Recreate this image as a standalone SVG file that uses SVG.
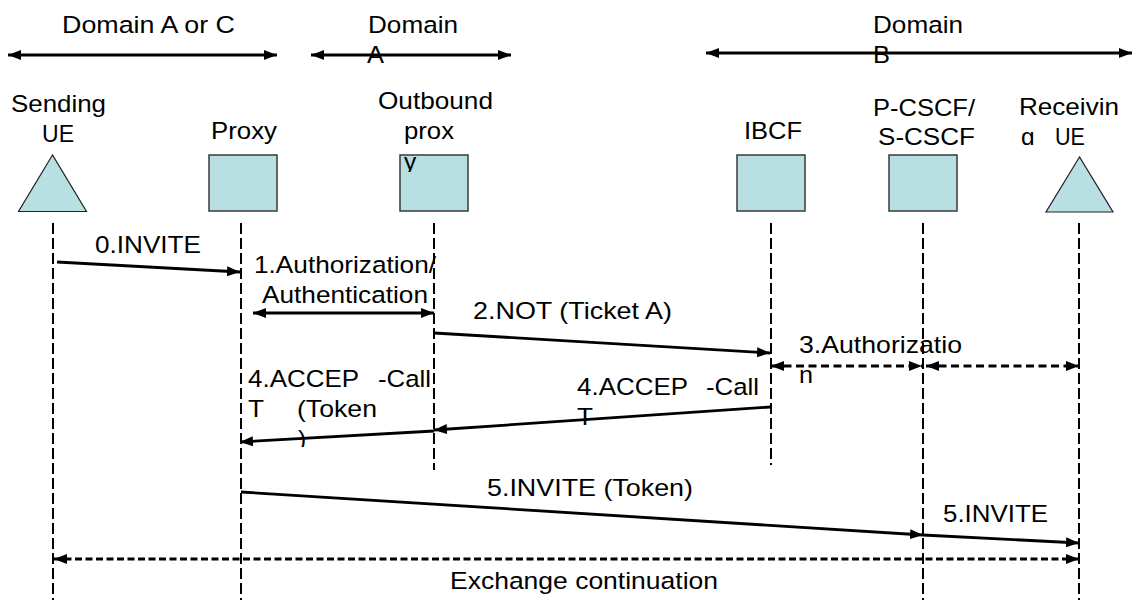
<svg xmlns="http://www.w3.org/2000/svg" width="1133" height="600" viewBox="0 0 1133 600">
<style>
.t{font-family:"Liberation Sans",Arial,sans-serif;font-size:24.5px;fill:#000}
.box{fill:#B8DFE2;stroke:#3a3a3a;stroke-width:1.5}
.ue{fill:#B8DFE2;stroke:#222;stroke-width:1.2}
.life{fill:none;stroke:#000;stroke-width:2;stroke-dasharray:11 4}
.msg{fill:none;stroke:#000;stroke-width:2.8}
.dmsg{fill:none;stroke:#000;stroke-width:2.8;stroke-dasharray:8 4.5}
.xmsg{fill:none;stroke:#000;stroke-width:2.8;stroke-dasharray:7 3.5}
.dom{fill:none;stroke:#000;stroke-width:3}
</style>
<defs>
<marker id="ah" markerUnits="userSpaceOnUse" markerWidth="14" markerHeight="12" viewBox="0 0 14 12" refX="13" refY="6" orient="auto-start-reverse">
<path d="M0,1 L13,6 L0,11 z" fill="#000"/>
</marker>
<clipPath id="cy"><rect x="395" y="140" width="40" height="32"/></clipPath>
<clipPath id="cg"><rect x="1015" y="120" width="25" height="25"/></clipPath>
<clipPath id="cp"><rect x="290" y="420" width="20" height="27"/></clipPath>
</defs>

<g id="domains">
<text class="t" x="62" y="33" textLength="173" lengthAdjust="spacingAndGlyphs">Domain A or C</text>
<text class="t" x="368" y="33" textLength="90" lengthAdjust="spacingAndGlyphs">Domain</text>
<text class="t" x="367" y="63" textLength="17" lengthAdjust="spacingAndGlyphs">A</text>
<text class="t" x="873" y="33" textLength="90" lengthAdjust="spacingAndGlyphs">Domain</text>
<text class="t" x="873" y="63" textLength="17" lengthAdjust="spacingAndGlyphs">B</text>
<path class="dom" d="M8,55 H277" marker-start="url(#ah)" marker-end="url(#ah)"/>
<path class="dom" d="M311,55 H511" marker-start="url(#ah)" marker-end="url(#ah)"/>
<path class="dom" d="M706,53 H1132" marker-start="url(#ah)" marker-end="url(#ah)"/>
</g>

<g id="sending-ue">
<text class="t" x="11" y="112" textLength="95" lengthAdjust="spacingAndGlyphs">Sending</text>
<text class="t" x="42" y="142" textLength="32" lengthAdjust="spacingAndGlyphs">UE</text>
<polygon class="ue" points="52.5,155 18.5,211.5 86.5,211.5"/>
</g>

<g id="proxy">
<text class="t" x="211" y="139" textLength="66" lengthAdjust="spacingAndGlyphs">Proxy</text>
<rect class="box" x="209" y="155" width="68" height="56"/>
</g>

<g id="outbound-proxy">
<text class="t" x="378" y="109" textLength="115" lengthAdjust="spacingAndGlyphs">Outbound</text>
<text class="t" x="404" y="139" textLength="50" lengthAdjust="spacingAndGlyphs">prox</text>
<rect class="box" x="400" y="155" width="68" height="56"/>
<text class="t" x="404" y="170" clip-path="url(#cy)">y</text>
</g>

<g id="ibcf">
<text class="t" x="744" y="139" textLength="58" lengthAdjust="spacingAndGlyphs">IBCF</text>
<rect class="box" x="737" y="155" width="68" height="56"/>
</g>

<g id="pcscf">
<text class="t" x="873" y="116" textLength="102" lengthAdjust="spacingAndGlyphs">P-CSCF/</text>
<text class="t" x="878" y="145" textLength="97" lengthAdjust="spacingAndGlyphs">S-CSCF</text>
<rect class="box" x="889" y="155" width="68" height="56"/>
</g>

<g id="receiving-ue">
<text class="t" x="1019" y="115" textLength="100" lengthAdjust="spacingAndGlyphs">Receivin</text>
<text class="t" x="1021" y="145" clip-path="url(#cg)">g</text>
<text class="t" x="1055" y="145" textLength="30" lengthAdjust="spacingAndGlyphs">UE</text>
<polygon class="ue" points="1079.5,157 1046,212 1113,212"/>
</g>

<g id="lifelines">
<path class="life" d="M53,223 V600"/>
<path class="life" d="M241,223 V600"/>
<path class="life" d="M434,223 V470"/>
<path class="life" d="M771,223 V465"/>
<path class="life" d="M923,223 V600"/>
<path class="life" d="M1079,223 V600"/>
</g>

<g id="connectors">
<path class="msg" d="M57,262 L240,272" marker-end="url(#ah)"/>
<path class="msg" d="M253,313 L434,313" marker-start="url(#ah)" marker-end="url(#ah)"/>
<path class="msg" d="M434,333 L770,353" marker-end="url(#ah)"/>
<path class="dmsg" d="M771,366 L922,366" marker-start="url(#ah)" marker-end="url(#ah)"/>
<path class="dmsg" d="M926,366 L1079,366" marker-start="url(#ah)" marker-end="url(#ah)"/>
<path class="msg" d="M770,407 L434,430" marker-end="url(#ah)"/>
<path class="msg" d="M434,431 L240,442" marker-end="url(#ah)"/>
<path class="msg" d="M241,492 L923,535" marker-end="url(#ah)"/>
<path class="msg" d="M923,535 L1079,543" marker-end="url(#ah)"/>
<path class="xmsg" d="M54,559 L1079,559" marker-start="url(#ah)" marker-end="url(#ah)"/>
</g>

<g id="labels">
<text class="t" x="95" y="253" textLength="106" lengthAdjust="spacingAndGlyphs">0.INVITE</text>
<text class="t" x="254" y="273" textLength="182" lengthAdjust="spacingAndGlyphs">1.Authorization/</text>
<text class="t" x="262" y="303" textLength="166" lengthAdjust="spacingAndGlyphs">Authentication</text>
<text class="t" x="473" y="319" textLength="199" lengthAdjust="spacingAndGlyphs">2.NOT (Ticket A)</text>
<text class="t" x="799" y="353" textLength="163" lengthAdjust="spacingAndGlyphs">3.Authorizatio</text>
<text class="t" x="799" y="383" textLength="14" lengthAdjust="spacingAndGlyphs">n</text>
<text class="t" x="248" y="387" textLength="111" lengthAdjust="spacingAndGlyphs">4.ACCEP</text>
<text class="t" x="378" y="387" textLength="53" lengthAdjust="spacingAndGlyphs">-Call</text>
<text class="t" x="248" y="417" textLength="16" lengthAdjust="spacingAndGlyphs">T</text>
<text class="t" x="297" y="417" textLength="80" lengthAdjust="spacingAndGlyphs">(Token</text>
<text class="t" x="298" y="447" clip-path="url(#cp)">)</text>
<text class="t" x="577" y="395" textLength="111" lengthAdjust="spacingAndGlyphs">4.ACCEP</text>
<text class="t" x="706" y="395" textLength="53" lengthAdjust="spacingAndGlyphs">-Call</text>
<text class="t" x="577" y="425" textLength="16" lengthAdjust="spacingAndGlyphs">T</text>
<text class="t" x="487" y="496" textLength="206" lengthAdjust="spacingAndGlyphs">5.INVITE (Token)</text>
<text class="t" x="943" y="522" textLength="105" lengthAdjust="spacingAndGlyphs">5.INVITE</text>
<text class="t" x="450" y="589" textLength="268" lengthAdjust="spacingAndGlyphs">Exchange continuation</text>
</g>
</svg>
